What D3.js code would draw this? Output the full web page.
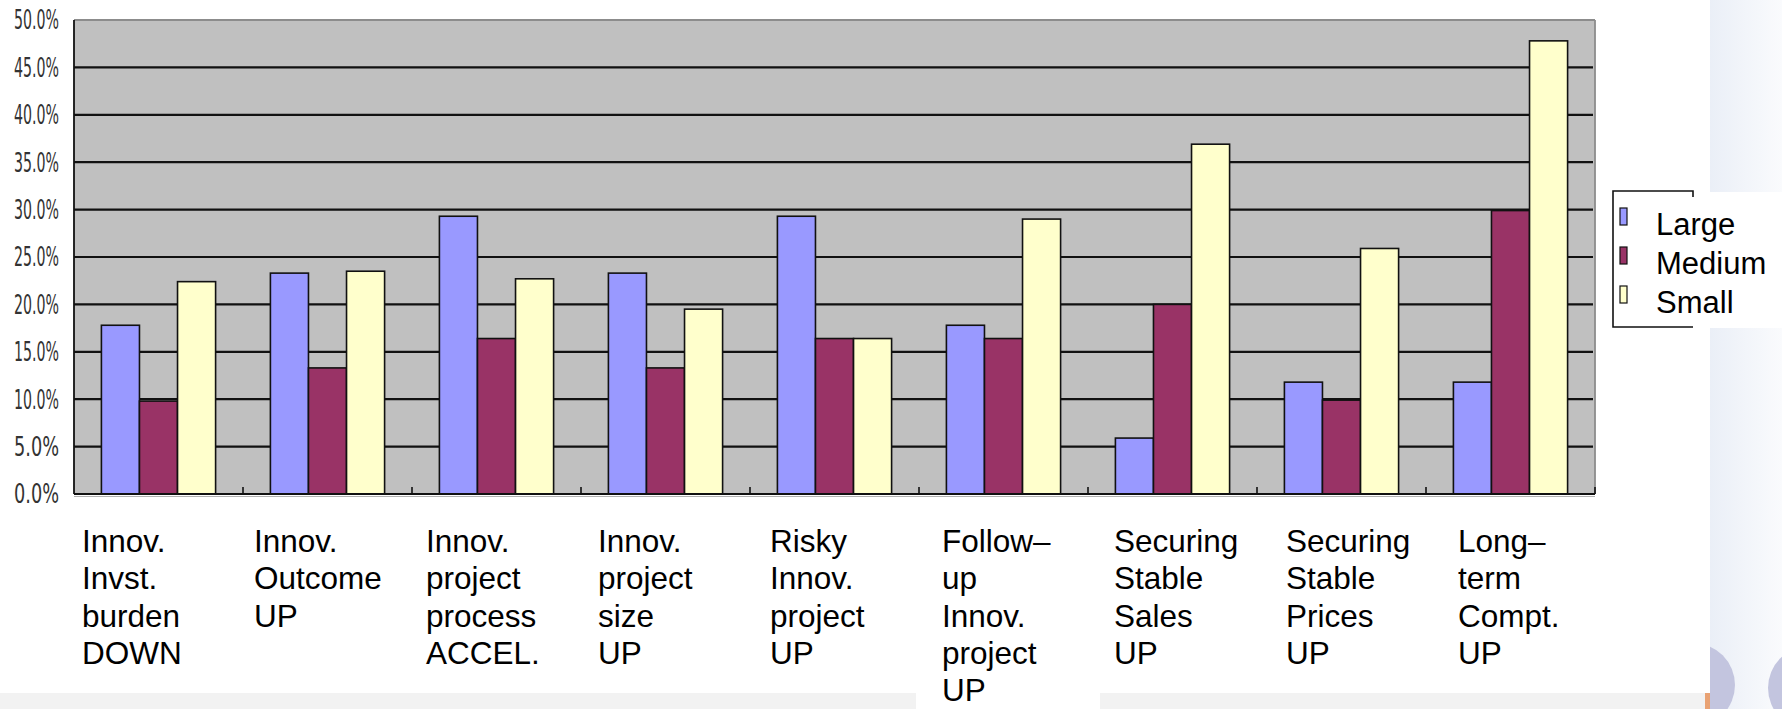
<!DOCTYPE html>
<html>
<head>
<meta charset="utf-8">
<script src="https://cdn.jsdelivr.net/npm/d3@7"></script>
<style>
  html, body { margin: 0; padding: 0; background: #fff; }
  svg { display: block; }
</style>
</head>
<body>
<svg id="chart" width="1782" height="709"></svg>
<script>
// ---- data ----
const categories = [
  "Innov.\nInvst.\nburden\nDOWN",
  "Innov.\nOutcome\nUP",
  "Innov.\nproject\nprocess\nACCEL.",
  "Innov.\nproject\nsize\nUP",
  "Risky\nInnov.\nproject\nUP",
  "Follow–\nup\nInnov.\nproject\nUP",
  "Securing\nStable\nSales\nUP",
  "Securing\nStable\nPrices\nUP",
  "Long–\nterm\nCompt.\nUP"
];
const seriesNames = ["Large", "Medium", "Small"];
const large  = [17.8, 23.3, 29.3, 23.3, 29.3, 17.8, 5.9, 11.8, 11.8];
const medium = [9.8, 13.3, 16.4, 13.3, 16.4, 16.4, 20.0, 9.9, 29.9];
const small  = [22.4, 23.5, 22.7, 19.5, 16.4, 29.0, 36.9, 25.9, 47.8];
const yTicks = [0, 5, 10, 15, 20, 25, 30, 35, 40, 45, 50];

const seriesValues = [large, medium, small];
const colors = ["#9999ff", "#993366", "#ffffcc"];

// ---- layout ----
const svg = d3.select("#chart");
const plot = { left: 74, right: 1595, top: 20, bottom: 494 };

// background decorations
const defs = svg.append("defs");
const grad = defs.append("linearGradient").attr("id", "colgrad").attr("x1", 0).attr("x2", 1);
grad.append("stop").attr("offset", 0).attr("stop-color", "#e8edf6");
grad.append("stop").attr("offset", 1).attr("stop-color", "#fafbfd");
svg.append("rect").attr("x", 1700).attr("y", 0).attr("width", 82).attr("height", 709).attr("fill", "url(#colgrad)");
svg.append("circle").attr("cx", 1693).attr("cy", 685).attr("r", 42).attr("fill", "#c3c5df");
svg.append("circle").attr("cx", 1810).attr("cy", 688).attr("r", 42).attr("fill", "#c3c5df");
svg.append("rect").attr("x", 0).attr("y", 0).attr("width", 1710).attr("height", 693).attr("fill", "#ffffff");
svg.append("rect").attr("x", 0).attr("y", 693).attr("width", 1705).attr("height", 16).attr("fill", "#f2f2f2");
svg.append("rect").attr("x", 1705).attr("y", 693).attr("width", 5).attr("height", 16).attr("fill", "#e9a273");

// scales
const x0 = d3.scaleBand().domain(categories).range([plot.left, plot.right]).paddingInner(0).paddingOuter(0);
const x1 = d3.scaleBand().domain(seriesNames).range([0, x0.bandwidth()]).paddingInner(0).paddingOuter(0.72);
const y = d3.scaleLinear().domain([0, 50]).range([plot.bottom, plot.top]);
const labelX = d3.scalePoint().domain(categories).range([82, 1458]);

// white background behind the long 6th label
svg.append("rect")
  .attr("x", labelX(categories[5]) - 26).attr("y", 680)
  .attr("width", labelX(categories[6]) - labelX(categories[5]) + 12).attr("height", 29)
  .attr("fill", "#ffffff");

// plot area
svg.append("rect")
  .attr("x", plot.left).attr("y", plot.top)
  .attr("width", plot.right - plot.left).attr("height", plot.bottom - plot.top)
  .attr("fill", "#c0c0c0");

// gridlines
svg.append("g").selectAll("line")
  .data(yTicks.filter(t => t > 0 && t < 50))
  .join("line")
  .attr("x1", plot.left).attr("x2", plot.right - 2)
  .attr("y1", d => y(d)).attr("y2", d => y(d))
  .attr("stroke", "#111").attr("stroke-width", 2.2);

// bars
const groups = svg.append("g").selectAll("g")
  .data(categories)
  .join("g")
  .attr("transform", d => `translate(${x0(d)},0)`);

groups.selectAll("rect")
  .data((d, i) => seriesNames.map((s, j) => ({ s, v: seriesValues[j][i], c: colors[j] })))
  .join("rect")
  .attr("x", d => x1(d.s))
  .attr("width", x1.bandwidth())
  .attr("y", d => y(d.v))
  .attr("height", d => y(0) - y(d.v))
  .attr("fill", d => d.c)
  .attr("stroke", "#111")
  .attr("stroke-width", 1.6);

// borders
svg.append("line").attr("x1", plot.left).attr("x2", plot.right).attr("y1", plot.top).attr("y2", plot.top)
  .attr("stroke", "#8c8c8c").attr("stroke-width", 1.8);
svg.append("line").attr("x1", plot.right).attr("x2", plot.right).attr("y1", plot.top).attr("y2", plot.bottom)
  .attr("stroke", "#8c8c8c").attr("stroke-width", 1.8);

// y axis line
svg.append("line").attr("x1", plot.left).attr("x2", plot.left).attr("y1", plot.top).attr("y2", plot.bottom)
  .attr("stroke", "#111").attr("stroke-width", 1.8);

// x axis (ticks inside, pointing up)
const xAxisG = svg.append("g");
xAxisG.append("line").attr("x1", plot.left).attr("x2", plot.right).attr("y1", plot.bottom).attr("y2", plot.bottom)
  .attr("stroke", "#111").attr("stroke-width", 2.2);
xAxisG.selectAll("line.tick")
  .data(categories.slice(1).map(c => x0(c)).concat([plot.right]))
  .join("line").attr("class", "tick")
  .attr("x1", d => d).attr("x2", d => d)
  .attr("y1", plot.bottom).attr("y2", plot.bottom - 7)
  .attr("stroke", "#111").attr("stroke-width", 1.6);
svg.append("line").attr("x1", plot.left).attr("x2", plot.right).attr("y1", plot.bottom + 2.5).attr("y2", plot.bottom + 2.5)
  .attr("stroke", "#b0b0b0").attr("stroke-width", 1);

// y tick labels (narrow, vertically stretched)
const fmt = d3.format(".1f");
svg.append("g").selectAll("text")
  .data(yTicks)
  .join("text")
  .attr("transform", d => `translate(59,${y(d)}) scale(1,1.55)`)
  .attr("dy", "0.36em")
  .attr("text-anchor", "end")
  .attr("font-family", "'Liberation Sans Narrow', 'DejaVu Sans Condensed', sans-serif")
  .attr("font-size", 17)
  .attr("textLength", 45)
  .attr("lengthAdjust", "spacingAndGlyphs")
  .attr("fill", "#333")
  .text(d => fmt(d) + "%");

// category labels
const catG = svg.append("g")
  .attr("font-family", "'Liberation Sans', Arial, sans-serif")
  .attr("font-size", 31.5)
  .attr("fill", "#000");
catG.selectAll("text")
  .data(categories)
  .join("text")
  .attr("x", d => labelX(d))
  .attr("y", 552)
  .each(function(d) {
    const t = d3.select(this);
    d.split("\n").forEach((line, i) => {
      t.append("tspan").attr("x", labelX(d)).attr("y", 552 + i * 37.3).text(line);
    });
  });

// legend
const legend = svg.append("g");
legend.append("rect").attr("x", 1613).attr("y", 192).attr("width", 169).attr("height", 136).attr("fill", "#ffffff");
legend.append("path")
  .attr("d", "M1693,197 V191 H1613 V327 H1693")
  .attr("fill", "none").attr("stroke", "#111").attr("stroke-width", 1.6);
const legRows = legend.selectAll("g")
  .data(seriesNames)
  .join("g")
  .attr("transform", (d, i) => `translate(0,${235 + i * 39})`);
legRows.append("rect")
  .attr("x", 1620).attr("y", -27).attr("width", 7).attr("height", 17)
  .attr("fill", (d, i) => colors[i]).attr("stroke", "#111").attr("stroke-width", 1.2);
legRows.append("text")
  .attr("x", 1656).attr("y", 0)
  .attr("font-family", "'Liberation Sans', Arial, sans-serif")
  .attr("font-size", 31)
  .attr("fill", "#000")
  .text(d => d);
</script>
</body>
</html>
